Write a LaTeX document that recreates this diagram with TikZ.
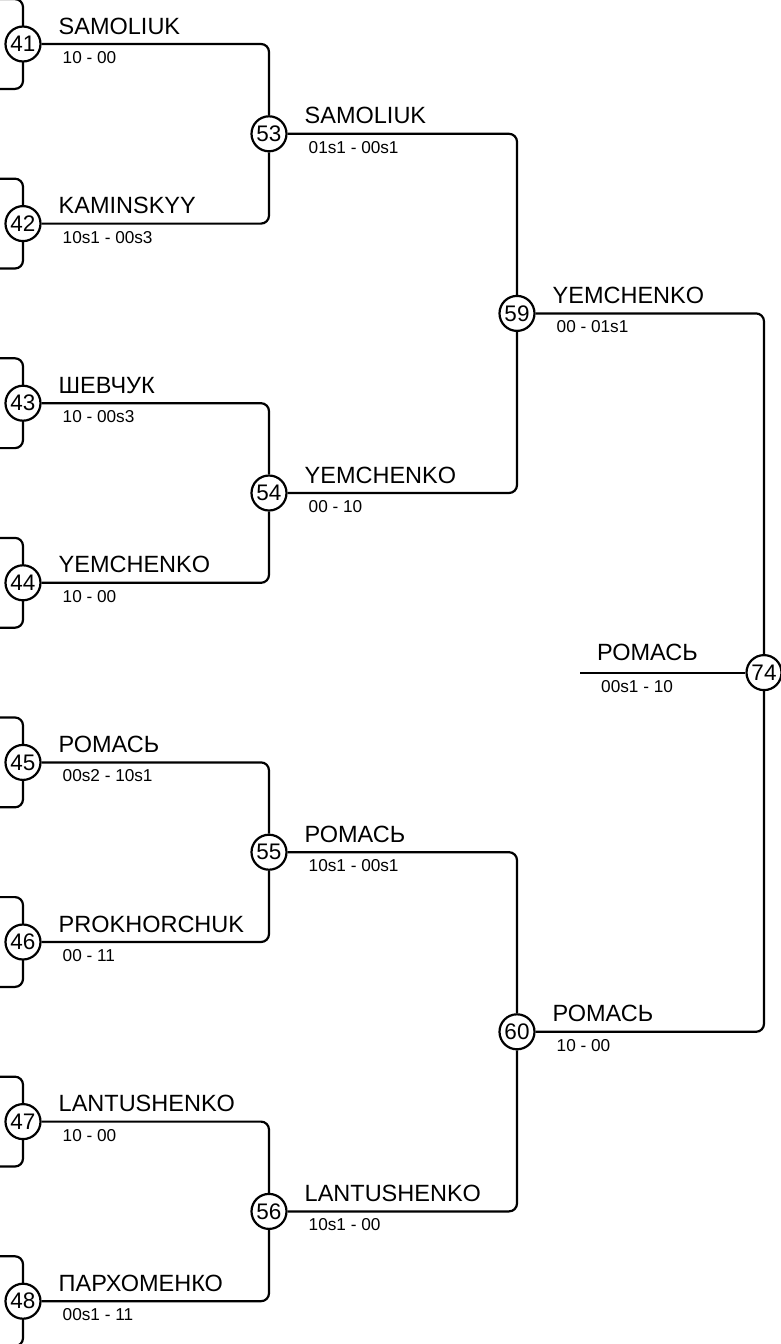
\documentclass[tikz,border=0pt]{standalone}
\usepackage{fontspec}
\setmainfont{Liberation Sans}
\tikzset{
  rnd/.style={circle,draw,line width=2.2pt,minimum size=35pt,inner sep=0pt,fill=white,font=\fontsize{22.5}{22.5}\selectfont},
  nm/.style={anchor=base west,inner sep=0pt,font=\fontsize{23.5}{23.5}\selectfont},
  sc/.style={anchor=base west,inner sep=0pt,font=\fontsize{17.2}{17.2}\selectfont},
  conn/.style={line width=2.2pt,rounded corners=8pt},
}
\newcommand{\bmatch}[5]{%
  \node[rnd] (c#1) at (#2,#3) {#1};
  \node[nm] (n#1) at (#2+35.5,#3-10) {#4};
  \node[sc] (s#1) at (#2+39.5,#3+19.5) {#5};
}
\begin{document}
\begin{tikzpicture}[x=1pt,y=-1pt]
\useasboundingbox (0,0) rectangle (781,1344);
% round 1 brackets (previous rounds off the picture), drawn below the circles
\foreach \n/\yy in {41/44,42/223.6,43/403.2,44/582.8,45/762.4,46/942,47/1121.6,48/1301.2}{
  \coordinate (a\n) at (0,\yy-44.9);
  \coordinate (b\n) at (0,\yy+44.9);
  \coordinate (q\n) at (23,\yy);
  \draw[conn] (a\n) -| (q\n) |- (b\n);
}
\coordinate (f74) at (580,672.6);
% matches
\bmatch{41}{23}{44}{SAMOLIUK}{10 - 00}
\bmatch{42}{23}{223.6}{KAMINSKYY}{10s1 - 00s3}
\bmatch{43}{23}{403.2}{ШЕВЧУК}{10 - 00s3}
\bmatch{44}{23}{582.8}{YEMCHENKO}{10 - 00}
\bmatch{45}{23}{762.4}{РОМАСЬ}{00s2 - 10s1}
\bmatch{46}{23}{942}{PROKHORCHUK}{00 - 11}
\bmatch{47}{23}{1121.6}{LANTUSHENKO}{10 - 00}
\bmatch{48}{23}{1301.2}{ПАРХОМЕНКО}{00s1 - 11}
\bmatch{53}{269}{133.8}{SAMOLIUK}{01s1 - 00s1}
\bmatch{54}{269}{493}{YEMCHENKO}{00 - 10}
\bmatch{55}{269}{852.2}{РОМАСЬ}{10s1 - 00s1}
\bmatch{56}{269}{1211.4}{LANTUSHENKO}{10s1 - 00}
\bmatch{59}{517}{313.4}{YEMCHENKO}{00 - 01s1}
\bmatch{60}{517}{1031.8}{РОМАСЬ}{10 - 00}
\node[rnd] (c74) at (764,672.6) {74};
\node[nm] (n74) at (597,660) {РОМАСЬ};
\node[sc] (s74) at (601,692.5) {00s1 - 10};
% connectors
\draw[conn] (c41) -| (c53);
\draw[conn] (c42) -| (c53);
\draw[conn] (c43) -| (c54);
\draw[conn] (c44) -| (c54);
\draw[conn] (c45) -| (c55);
\draw[conn] (c46) -| (c55);
\draw[conn] (c47) -| (c56);
\draw[conn] (c48) -| (c56);
\draw[conn] (c53) -| (c59);
\draw[conn] (c54) -| (c59);
\draw[conn] (c55) -| (c60);
\draw[conn] (c56) -| (c60);
\draw[conn] (c59) -| (c74);
\draw[conn] (c60) -| (c74);
\draw[conn] (f74) -- (c74);
\end{tikzpicture}
\end{document}
